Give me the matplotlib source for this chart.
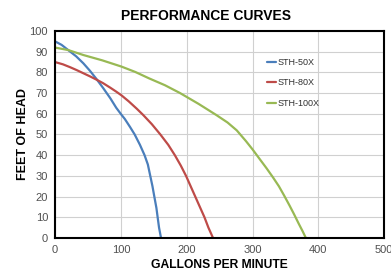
import matplotlib.pyplot as plt

plt.rcParams['font.family'] = ['Liberation Sans', 'DejaVu Sans']

# values
gpm_50 = [0, 10, 20, 32, 43, 53, 63, 73, 84, 93, 101, 106, 114, 121, 129, 136, 141, 144, 148, 151, 154, 156, 158, 161]
head_50 = [95, 93.3, 90.8, 87.8, 84.4, 80.8, 76.8, 72.5, 67.5, 62.9, 59.5, 57.5, 53.6, 50, 45, 40, 35.5, 31, 25, 19.7, 14.5, 9.7, 5, 0]

gpm_80 = [0, 12, 23, 33, 43, 53, 63, 73, 84, 93, 101, 112, 124, 134, 147, 160, 172, 182, 191, 199, 206, 213, 220, 227, 233, 240]
head_80 = [85, 83.9, 82.5, 81.1, 79.6, 78.1, 76.5, 74.8, 72.6, 70.7, 68.9, 66, 62.5, 59.4, 55, 50, 45, 40, 35, 30, 25, 20, 15, 10, 5, 0]

gpm_100 = [0, 20, 43, 72, 101, 122, 143, 167, 190, 218, 245, 262, 276, 290, 300, 310, 321, 331, 340, 348, 356, 363, 370, 376, 381]
head_100 = [92, 90.8, 88.4, 85.8, 82.8, 80.2, 77.1, 73.8, 70, 64.8, 59.4, 55.8, 52, 46.8, 42.8, 38.5, 33.8, 29.3, 25, 20.5, 15.8, 11.5, 7, 3.3, 0]

labels = ["STH-50X", "STH-80X", "STH-100X"]
colors = ["#4a7ebb", "#be4b48", "#98b954"]

fig = plt.figure(figsize=(3.91, 2.71), dpi=100)
ax = fig.add_axes([0.1407, 0.1218, 0.842, 0.7638])

for x, y, lab, c in zip([gpm_50, gpm_80, gpm_100], [head_50, head_80, head_100], labels, colors):
    ax.plot(x, y, color=c, linewidth=1.6, label=lab, solid_capstyle='round', solid_joinstyle='round')

ax.set_xlim(0, 500)
ax.set_ylim(0, 100)
ax.set_xticks(range(0, 501, 100))
ax.set_yticks(range(0, 101, 10))
ax.grid(True, color="#d0d0d0", linewidth=0.8)
ax.set_axisbelow(True)
ax.tick_params(length=0, labelsize=8, colors="#505050", pad=5)
for s in ax.spines.values():
    s.set_linewidth(1.5)
    s.set_color("black")

fig.text(206 / 391, 1 - 16 / 271, "PERFORMANCE CURVES", fontsize=10, fontweight='bold',
         ha='center', va='center')
ax.set_xlabel("GALLONS PER MINUTE", fontsize=8.7, fontweight='bold', labelpad=3)
ax.set_ylabel("FEET OF HEAD", fontsize=9, fontweight='bold', labelpad=0.5)

leg = ax.legend(loc='upper left', bbox_to_anchor=(0.631, 0.893), frameon=False, fontsize=6.5,
                handlelength=1.0, handletextpad=0.15, labelspacing=1.3, borderpad=0)
for t in leg.get_texts():
    t.set_color("#303030")

plt.savefig("out.png", dpi=100)
